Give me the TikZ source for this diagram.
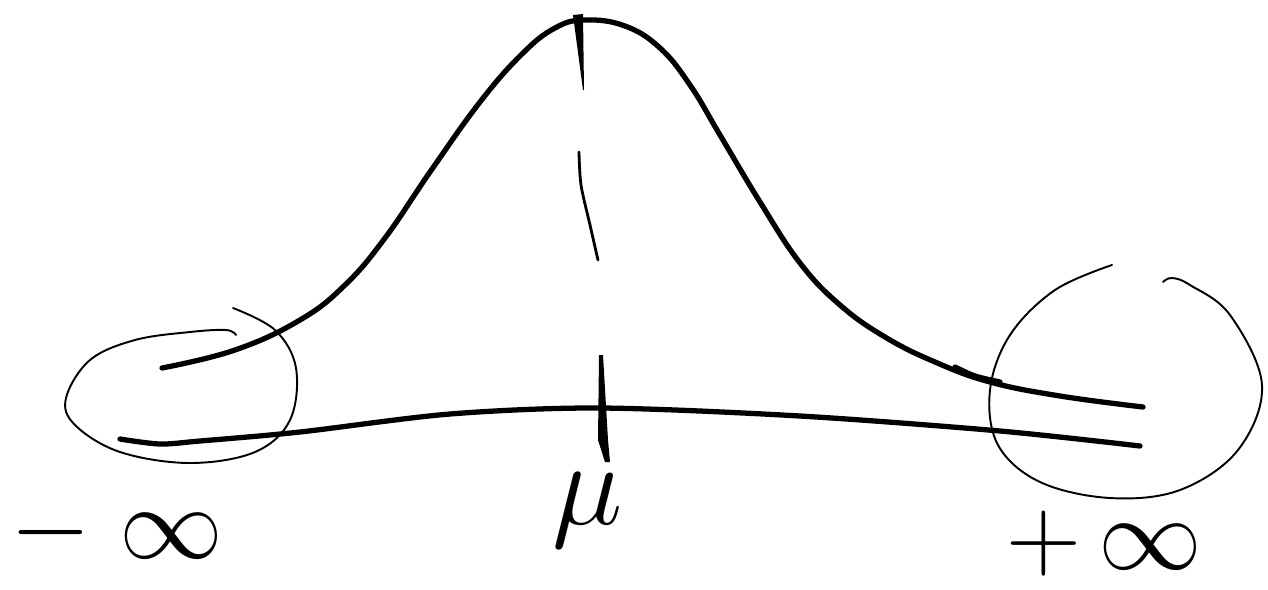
\documentclass[tikz,border=0pt]{standalone}
\usepackage{amsmath,amssymb}
\usepackage{tikz}

\begin{document}
\begin{tikzpicture}[x=0.02cm,y=-0.02cm,line cap=round,line join=round,
  pen/.style={line width=3pt,black},
  ring/.style={line width=1.1pt,black},
  lbl/.style={font=\huge,scale=2.85,inner sep=0pt}]
  \useasboundingbox (0,0) rectangle (1268,589);
  % bell curve
  \draw[pen] plot[smooth,tension=0.7] coordinates {(162,368) (235,350) (300,320) (345,285)
    (385,238) (430,172) (480,102) (522,54) (555,28) (585,20) (625,26) (660,48) (690,85)
    (720,135) (760,202) (800,263) (840,305) (885,337) (935,362) (990,382) (1060,396) (1143,407)};
  \draw[pen] plot[smooth] coordinates {(955,367) (975,376) (1000,382)};
  % axis
  \draw[pen] plot[smooth] coordinates {(120,439) (160,444) (200,441) (300,432) (450,414)
    (600,408) (800,416) (1000,431) (1140,446)};
  % mean, dashed by hand
  \fill (573,15) -- (583,14) -- (584,90) -- (583,90) -- cycle;
  \draw[line width=1.6pt] plot[smooth] coordinates {(579,152) (581,185) (590,225) (598,260)};
  \fill (599,355) -- (603,355) -- (608,440) -- (610,462) -- (605,462) -- (598,440) -- cycle;
  % tails circled
  \draw[ring] plot[smooth,tension=0.6] coordinates {(233,308) (275,330) (296,368) (290,420)
    (255,452) (190,463) (120,452) (75,425) (66,398) (90,360) (135,340) (190,332) (226,330) (236,335)};
  \draw[ring] plot[smooth,tension=0.6] coordinates {(1112,265) (1055,290) (1010,335) (990,390)
    (998,445) (1040,482) (1110,498) (1180,490) (1238,450) (1262,385) (1230,315) (1190,285)
    (1172,278) (1163,282)};
  % labels
  \node[lbl] (minf) at (117,533) {$-\;\infty$};
  \node[lbl,scale=1.15] (mu) at (588,510) {$\mu$};
  \node[lbl] (pinf) at (1104,544) {$+\,\infty$};
\end{tikzpicture}
\end{document}
